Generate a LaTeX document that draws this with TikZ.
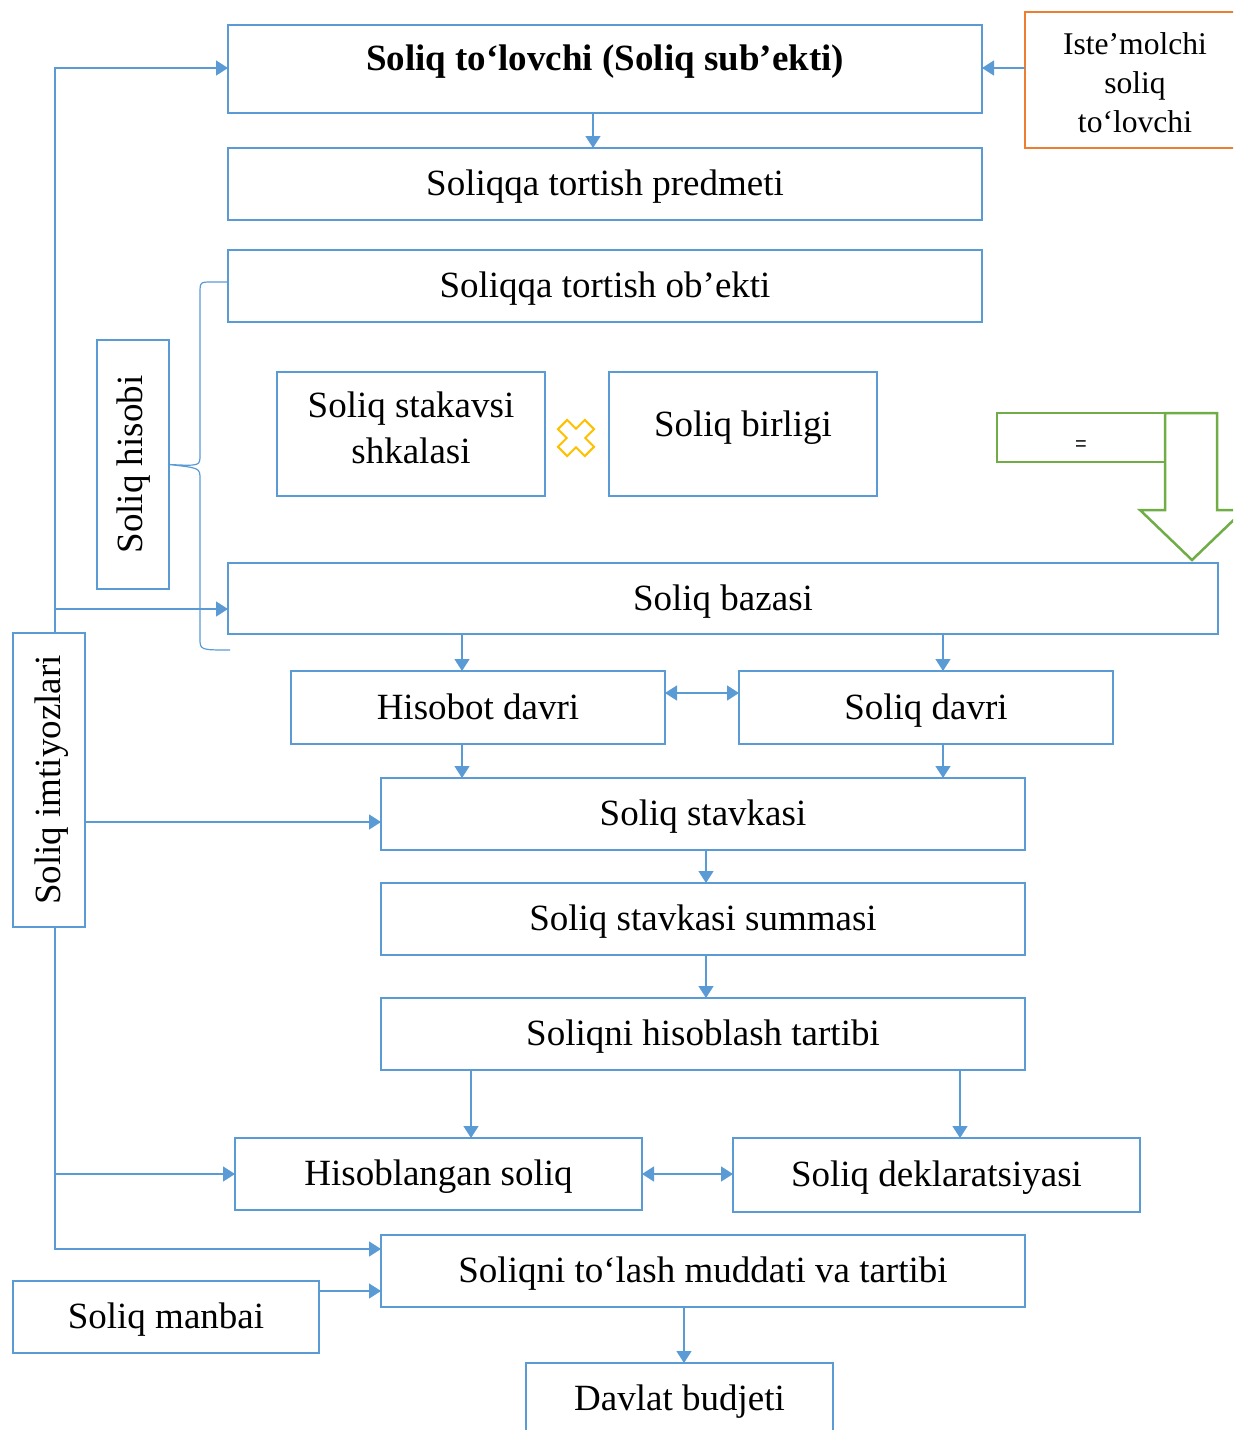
\documentclass[tikz,border=0pt]{standalone}
\usepackage{fontspec}
\setmainfont{Liberation Serif}
\newfontfamily\sansf{Liberation Sans}
\usetikzlibrary{arrows.meta}
\definecolor{bl}{HTML}{5B9BD5}
\definecolor{og}{HTML}{ED7D31}
\definecolor{gr}{HTML}{70AD47}
\definecolor{gd}{HTML}{FFC000}
\tikzset{
  box/.style={draw=bl,line width=1.25pt,fill=white,inner sep=0pt,outer sep=0pt,align=center,
    font=\fontsize{18.5}{23}\selectfont},
  one/.style={text height=15.5pt,text depth=4pt},
  flat/.style={text height=0pt,text depth=0pt},
  arr/.style={draw=bl,line width=0.75pt,-{Triangle[length=6pt,width=7.5pt]}},
  darr/.style={draw=bl,line width=0.75pt,{Triangle[length=6pt,width=7.5pt]}-{Triangle[length=6pt,width=7.5pt]}},
  brace/.style={draw=bl,line width=0.6pt},
}
\newcommand\mybox[7][]{\node[box,anchor=north west,minimum width={(#5-#3)*0.5pt},minimum height={(#6-#4)*0.5pt},#1] (#2) at (#3,#4) {#7};}
\begin{document}
\begin{tikzpicture}[x=0.5pt,y=-0.5pt]
\useasboundingbox (0,0) rectangle (1233,1430);
\clip (0,0) rectangle (1233,1430);
% boxes
\mybox[one,font=\fontsize{18.5}{23}\selectfont\bfseries]{top}{228}{25}{982}{113}{\raisebox{5pt}{Soliq to‘lovchi (Soliq sub’ekti)}}
\mybox[draw=og,flat,font=\fontsize{15.8}{19.5}\selectfont]{iste}{1025}{12}{1245}{148}{\raisebox{-6.5pt}{\begin{tabular}{@{}c@{}}Iste’molchi\\soliq\\to‘lovchi\end{tabular}}}
\mybox[one]{pred}{228}{148}{982}{220}{Soliqqa tortish predmeti}
\mybox[one]{obek}{228}{250}{982}{322}{Soliqqa tortish ob’ekti}
\mybox[flat]{shk}{277}{372}{545}{496}{\raisebox{-3.1pt}{\begin{tabular}{@{}c@{}}Soliq stakavsi\\shkalasi\end{tabular}}}
\mybox[one]{bir}{609}{372}{877}{496}{\raisebox{4.5pt}{Soliq birligi}}
\mybox[draw=gr,font=\sansf\fontsize{10}{12}\selectfont,text height=7pt,text depth=0pt]{eq}{997}{413}{1165}{462}{\raisebox{-2.75pt}{=}}
\mybox[one]{baza}{228}{563}{1218}{634}{Soliq bazasi}
\mybox[one]{hdav}{291}{671}{665}{744}{Hisobot davri}
\mybox[one]{sdav}{739}{671}{1113}{744}{Soliq davri}
\mybox[one]{stav}{381}{778}{1025}{850}{Soliq stavkasi}
\mybox[one]{summ}{381}{883}{1025}{955}{Soliq stavkasi summasi}
\mybox[one]{tart}{381}{998}{1025}{1070}{Soliqni hisoblash tartibi}
\mybox[one]{hisb}{235}{1138}{642}{1210}{Hisoblangan soliq}
\mybox[one]{dekl}{733}{1138}{1140}{1212}{Soliq deklaratsiyasi}
\mybox[one]{tol}{381}{1235}{1025}{1307}{Soliqni to‘lash muddati va tartibi}
\mybox[one]{manb}{13}{1281}{319}{1353}{Soliq manbai}
\mybox[one]{davl}{526}{1363}{833}{1445}{\raisebox{2.5pt}{Davlat budjeti}}
\node[box,one,rotate=90,minimum width=124.5pt,minimum height=36pt] (hisobi) at (133,464.5) {\raisebox{1pt}{Soliq hisobi}};
% left line
\coordinate (lt) at (55,633);
\coordinate (lb) at (55,927);
\draw[arr] (lt) |- (top.west |- 0,68);
\draw[arr] (lt |- 0,609) -- (baza.west |- 0,609);
\draw[arr] (lb) |- (tol.west |- 0,1249);
\draw[arr] (lb |- hisb.west) -- (hisb.west);
\node[box,one,rotate=90,minimum width=147pt,minimum height=36pt] (imt) at (49,780) {Soliq imtiyozlari};
% connectors
\draw[arr] (iste.west |- 0,68) -- (top.east |- 0,68);
\draw[arr] (top.south -| 593,0) -- (pred.north -| 593,0);
\draw[arr] (imt.south |- 0,822) -- (stav.west |- 0,822);
\draw[arr] (manb.east |- 0,1291) -- (tol.west |- 0,1291);
\draw[arr] (baza.south -| 462,0) -- (hdav.north -| 462,0);
\draw[arr] (baza.south -| 943,0) -- (sdav.north -| 943,0);
\draw[arr] (hdav.south -| 462,0) -- (stav.north -| 462,0);
\draw[arr] (sdav.south -| 943,0) -- (stav.north -| 943,0);
\draw[darr] (hdav.east |- 0,693) -- (sdav.west |- 0,693);
\draw[arr] (stav.south -| 706,0) -- (summ.north -| 706,0);
\draw[arr] (summ.south -| 706,0) -- (tart.north -| 706,0);
\draw[arr] (tart.south -| 471,0) -- (hisb.north -| 471,0);
\draw[arr] (tart.south -| 960,0) -- (dekl.north -| 960,0);
\draw[darr] (hisb.east |- 0,1174) -- (dekl.west |- 0,1174);
\draw[arr] (tol.south -| 684,0) -- (davl.north -| 684,0);
% brace
\draw[brace] (obek.west |- 0,282) -- (212,282) .. controls (200,282) .. (200,294) -- (200,455)
  .. controls (200,466) .. (hisobi.south) .. controls (200,468) .. (200,479) -- (200,638)
  .. controls (200,650) .. (230,650);
% green arrow
\draw[gr,line width=1.25pt,line join=miter] (eq.north east) -- (1217,413) -- (1217,510) -- (1244,510) -- (1192,560) -- (1140,510) -- (1165,510) -- cycle;
% multiply sign
\begin{scope}[shift={(576,438)},rotate=45]
\draw[gd,line width=1pt] (-6.5,19) -- (6.5,19) -- (6.5,6.5) -- (19,6.5) -- (19,-6.5) -- (6.5,-6.5) -- (6.5,-19) -- (-6.5,-19) -- (-6.5,-6.5) -- (-19,-6.5) -- (-19,6.5) -- (-6.5,6.5) -- cycle;
\end{scope}
\end{tikzpicture}
\end{document}
